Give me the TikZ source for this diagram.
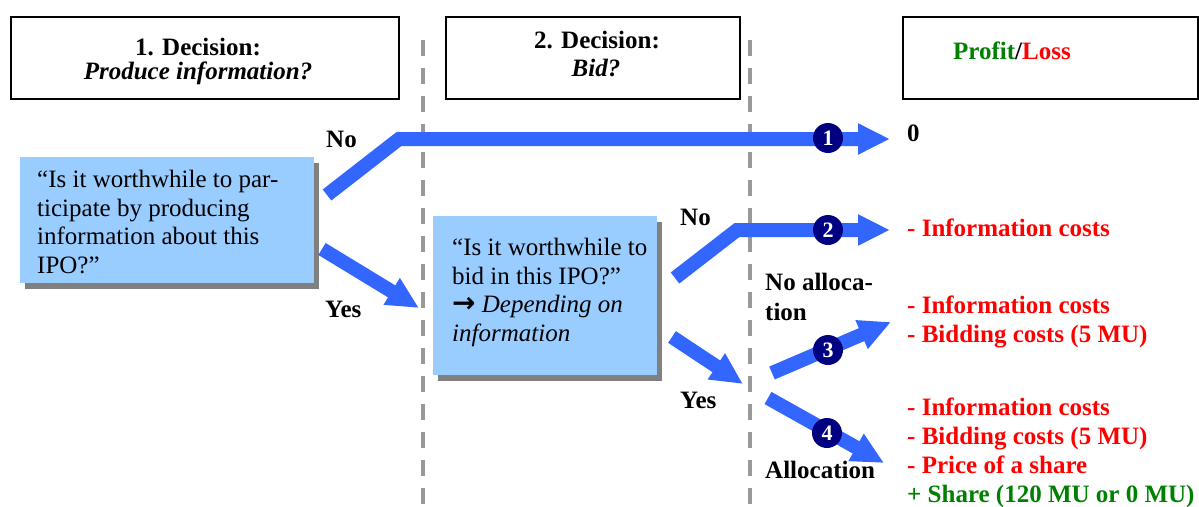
\documentclass[tikz,border=0pt]{standalone}
\usepackage{fontspec}
\setmainfont{Liberation Serif}
\newfontfamily\arrowfont{DejaVu Sans}
\usetikzlibrary{arrows.meta,shadows}
\definecolor{flowblue}{HTML}{3366FF}
\definecolor{boxblue}{HTML}{99CCFF}
\definecolor{navyc}{HTML}{000080}
\definecolor{pgreen}{HTML}{008000}
\definecolor{pred}{HTML}{FF0000}
\definecolor{dashgray}{HTML}{999999}
\definecolor{shadowgray}{HTML}{808080}
\begin{document}
\begin{tikzpicture}[x=1pt,y=-1pt,
  header/.style={draw=black, line width=2pt, anchor=north west, inner sep=0pt},
  qbox/.style={fill=boxblue, anchor=north west, inner sep=0pt,
    drop shadow={shadow xshift=5pt, shadow yshift=-6pt, fill=shadowgray, opacity=1}},
  txt/.style={font=\fontsize{25}{28.5}\selectfont, inner sep=0pt, anchor=base west, align=left},
  btxt/.style={font=\bfseries\fontsize{25}{29}\selectfont, inner sep=0pt, anchor=base west, align=left},
  htxt/.style={font=\bfseries\fontsize{25}{28}\selectfont, inner sep=0pt, anchor=base},
  sep/.style={dashgray, line width=4pt, dash pattern=on 16pt off 12pt},
  flow/.style={flowblue, line width=14pt, line join=miter, -{Triangle[length=32pt,width=29pt]}},
  numc/.style={circle, fill=navyc, text=white, inner sep=0pt, minimum size=30pt,
    font=\bfseries\fontsize{22}{22}\selectfont}]
\useasboundingbox (0,0) rectangle (1199,506);

% separators
\draw[sep] (423,40) -- (423,506);
\draw[sep] (750,40) -- (750,506);

% header boxes
\node[header, minimum width=388pt, minimum height=82pt] (h1) at (10,16) {};
\node[header, minimum width=294pt, minimum height=82pt] (h2) at (445,16) {};
\node[header, minimum width=295pt, minimum height=82pt] (h3) at (902,16) {};
\node[htxt] (h1a) at (198,55) {1. Decision:};
\node[htxt] (h1b) at (198,79) {\itshape Produce information?};
\node[htxt] (h2a) at (597,48) {2. Decision:};
\node[htxt] (h2b) at (596,76) {\itshape Bid?};
\node[btxt] (h3a) at (953,59) {\textcolor{pgreen}{Profit}/\textcolor{pred}{Loss}};

% question boxes
\node[qbox, minimum width=294pt, minimum height=126pt] (q1) at (20,157) {};
\node[txt] (q1t) at (37,273) {``Is it worthwhile to par-\\ticipate by producing\\information about this\\IPO?''};
\node[qbox, minimum width=224pt, minimum height=159pt] (q2) at (433,216) {};
\node[txt] (q2t) at (452,341) {``Is it worthwhile to\\bid in this IPO?''\\{\arrowfont\bfseries\fontsize{28}{28.5}\selectfont →} \textit{Depending on}\\\textit{information}};

% flow arrows
\coordinate (a1s) at (327,195);
\coordinate (a1b) at (399,139);
\coordinate (a1e) at (890,139);
\coordinate (y1s) at (322,249);
\coordinate (y1e) at (419,308);
\coordinate (a2s) at (675,278);
\coordinate (a2b) at (737,230);
\coordinate (a2e) at (890,230);
\coordinate (y2s) at (672,337);
\coordinate (y2e) at (743,384);
\coordinate (a3s) at (772,373);
\coordinate (a3e) at (891,322);
\coordinate (a4s) at (768,398);
\coordinate (a4e) at (884,463);
\draw[flow] (a1s) -- (a1b) -- (a1e);
\draw[flow] (y1s) -- (y1e);
\draw[flow] (a2s) -- (a2b) -- (a2e);
\draw[flow] (y2s) -- (y2e);
\draw[flow] (a3s) -- (a3e);
\draw[flow] (a4s) -- (a4e);

\node[numc] (n1) at (828,138) {1};
\node[numc] (n2) at (828,230) {2};
\node[numc] (n3) at (828,350) {3};
\node[numc] (n4) at (827,433) {4};

% branch labels
\node[btxt] (lno1) at (326,147) {No};
\node[btxt] (lyes1) at (325,317) {Yes};
\node[btxt] (lno2) at (680,225) {No};
\node[btxt] (lyes2) at (680,408) {Yes};
\node[btxt, font=\bfseries\fontsize{25}{30}\selectfont] (lnoal) at (765,320) {No alloca-\\tion};
\node[btxt] (lal) at (765,478) {Allocation};

% outcomes
\node[btxt] (o1) at (907,141) {0};
\node[btxt, text=pred] (o2) at (907,236) {- Information costs};
\node[btxt, text=pred] (o3) at (907,342) {- Information costs\\- Bidding costs (5 MU)};
\node[btxt, text=pred] (o4) at (907,502) {- Information costs\\- Bidding costs (5 MU)\\- Price of a share\\\textcolor{pgreen}{+ Share (120 MU or 0 MU)}};
\end{tikzpicture}
\end{document}
